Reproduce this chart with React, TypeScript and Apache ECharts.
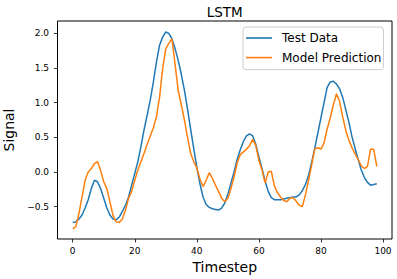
import React, { useEffect, useRef } from "react";
import * as echarts from "echarts";

const titleText = "LSTM";
const xName = "Timestep";
const yName = "Signal";
const seriesNames = ["Test Data", "Model Prediction"];
const xTicks = [0, 20, 40, 60, 80, 100];
const yTicks = [-0.5, 0, 0.5, 1, 1.5, 2];

const testData = [
  -0.73, -0.72, -0.68, -0.62, -0.52, -0.4, -0.24, -0.12, -0.14, -0.24,
  -0.38, -0.52, -0.62, -0.68, -0.69, -0.65, -0.57, -0.48, -0.36, -0.19,
  -0.02, 0.15, 0.37, 0.61, 0.82, 1.04, 1.3, 1.59, 1.83, 1.95,
  2.02, 2.0, 1.92, 1.78, 1.61, 1.41, 1.18, 0.91, 0.62, 0.34,
  0.07, -0.17, -0.36, -0.47, -0.51, -0.53, -0.54, -0.55, -0.52, -0.45,
  -0.32, -0.16, 0.0, 0.18, 0.32, 0.44, 0.52, 0.55, 0.52, 0.4,
  0.22, 0.05, -0.13, -0.28, -0.37, -0.4, -0.4, -0.4, -0.39, -0.38,
  -0.37, -0.36, -0.36, -0.33, -0.27, -0.18, -0.05, 0.14, 0.34, 0.56,
  0.78, 1.0, 1.22, 1.3, 1.31, 1.27, 1.2, 1.08, 0.9, 0.72,
  0.51, 0.34, 0.18, 0.03, -0.08, -0.15, -0.19, -0.18, -0.17,
];

const predicted = [
  -0.82, -0.79, -0.6, -0.36, -0.12, 0.0, 0.05, 0.12, 0.15, 0.02,
  -0.14, -0.24, -0.43, -0.63, -0.72, -0.73, -0.68, -0.55, -0.38, -0.28,
  -0.12, 0.03, 0.15, 0.27, 0.4, 0.52, 0.64, 0.8, 1.08, 1.5,
  1.78, 1.86, 1.92, 1.55, 1.18, 0.97, 0.75, 0.5, 0.27, 0.15,
  0.06, -0.1, -0.21, -0.12, -0.01, -0.09, -0.19, -0.28, -0.38, -0.43,
  -0.38, -0.24, -0.07, 0.13, 0.25, 0.29, 0.33, 0.38, 0.47, 0.38,
  0.17, 0.03, -0.16, 0.0, 0.01, -0.2, -0.3, -0.36, -0.41, -0.43,
  -0.38, -0.37, -0.42, -0.48, -0.5, -0.33, -0.12, 0.1, 0.33, 0.35,
  0.33, 0.42, 0.62, 0.78, 0.97, 1.13, 1.02, 0.8, 0.6, 0.46,
  0.35, 0.26, 0.18, 0.09, 0.05, 0.08, 0.33, 0.33, 0.08,
];

const FONT = "DejaVu Sans";
const INK = "#000";

export default function App() {
  const ref = useRef<HTMLDivElement>(null);
  useEffect(() => {
    if (!ref.current) return;
    const chart = echarts.init(ref.current, null, { renderer: "svg" });
    const fmt = (v: number) => v.toFixed(1).replace("-", "\u2212");
    chart.setOption({
      animation: false,
      backgroundColor: "#fff",
      title: {
        text: titleText,
        left: 224.75,
        textAlign: "center",
        top: 0,
        padding: [5, 0, 0, 0],
        textStyle: { fontFamily: FONT, fontSize: 13.5, fontWeight: "normal", color: INK },
      },
      legend: {
        orient: "vertical",
        left: 243,
        top: 27,
        padding: [4, 2, 5, 3],
        itemGap: 5.6,
        itemWidth: 26,
        itemHeight: 1.6,
        icon: "rect",
        backgroundColor: "rgba(255,255,255,0.8)",
        borderColor: "#cccccc",
        borderWidth: 1,
        borderRadius: 3,
        textStyle: {
          fontFamily: FONT,
          fontSize: 12,
          color: INK,
          lineHeight: 14,
          padding: [0, 0, 0, 5],
        },
        data: seriesNames,
      },
      grid: {
        left: 57.5,
        right: 5,
        top: 21,
        bottom: 40,
        show: true,
        borderColor: INK,
        borderWidth: 1,
        containLabel: false,
        outerBoundsMode: "none",
      },
      xAxis: {
        type: "value",
        min: -4.9,
        max: 102.9,
        name: xName,
        nameLocation: "middle",
        nameGap: 21,
        nameTextStyle: { fontFamily: FONT, fontSize: 14, color: INK },
        axisLine: { show: false, onZero: false },
        splitLine: { show: false },
        axisTick: {
          show: true,
          inside: false,
          length: 3.5,
          customValues: xTicks,
          lineStyle: { color: INK, width: 0.8 },
        },
        axisLabel: {
          customValues: xTicks,
          margin: 7,
          fontFamily: FONT,
          fontSize: 9,
          color: INK,
          formatter: (v: number) => String(v),
        },
      },
      yAxis: {
        type: "value",
        min: -0.967,
        max: 2.179,
        name: yName,
        nameLocation: "middle",
        nameGap: 36,
        nameTextStyle: { fontFamily: FONT, fontSize: 14, color: INK },
        axisLine: { show: false, onZero: false },
        splitLine: { show: false },
        axisTick: {
          show: true,
          inside: false,
          length: 3.5,
          customValues: yTicks,
          lineStyle: { color: INK, width: 0.8 },
        },
        axisLabel: {
          customValues: yTicks,
          margin: 8.5,
          fontFamily: FONT,
          fontSize: 9,
          color: INK,
          formatter: (v: number) => fmt(v),
        },
      },
      series: [
        {
          name: seriesNames[0],
          type: "line",
          symbol: "none",
          data: testData.map((v, i) => [i, v]),
          lineStyle: { color: "#1f77b4", width: 1.5 },
          itemStyle: { color: "#1f77b4" },
        },
        {
          name: seriesNames[1],
          type: "line",
          symbol: "none",
          data: predicted.map((v, i) => [i, v]),
          lineStyle: { color: "#ff7f0e", width: 1.5 },
          itemStyle: { color: "#ff7f0e" },
        },
      ],
    });
    return () => chart.dispose();
  }, []);
  return (
    <div
      ref={ref}
      style={{ position: "fixed", left: 0, top: 0, width: 397, height: 279, background: "#fff" }}
    />
  );
}
